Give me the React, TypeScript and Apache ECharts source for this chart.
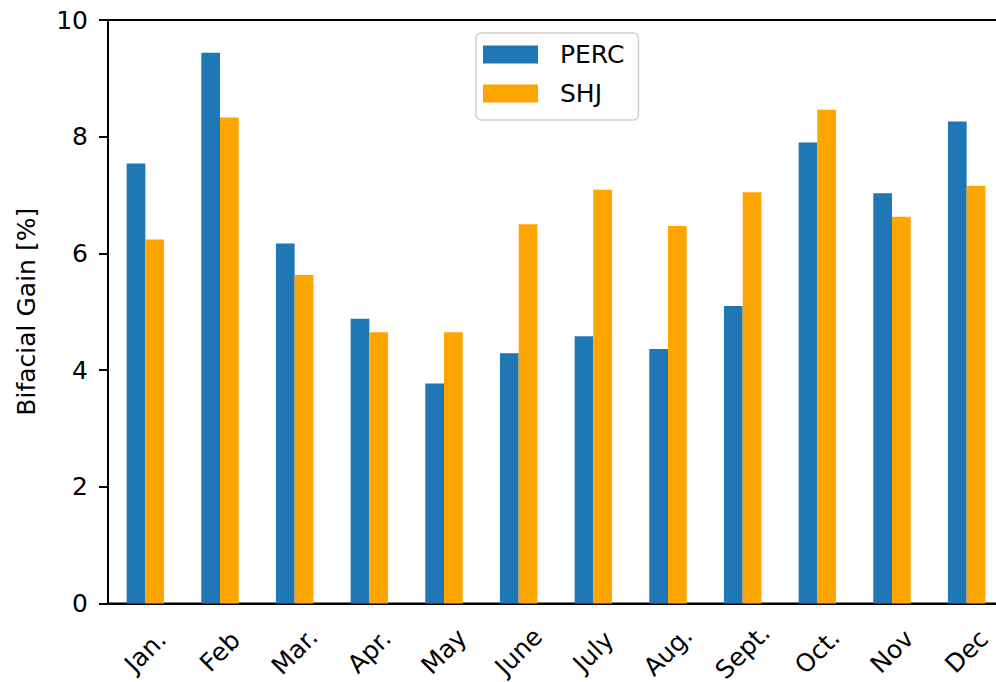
import React, { useEffect, useRef } from "react";
import * as echarts from "echarts";

// Monthly bifacial gain of two module technologies
const months = ["Jan.", "Feb", "Mar.", "Apr.", "May", "June", "July", "Aug.", "Sept.", "Oct.", "Nov", "Dec"];
const percGain = [7.54, 9.44, 6.17, 4.88, 3.77, 4.29, 4.58, 4.36, 5.10, 7.90, 7.03, 8.26];
const shjGain = [6.24, 8.33, 5.63, 4.65, 4.65, 6.50, 7.09, 6.47, 7.05, 8.46, 6.63, 7.16];
const yTicks = { min: 0, max: 10, interval: 2 };

const FONT = "DejaVu Sans";
const FS = 25;

export default function App() {
  const ref = useRef<HTMLDivElement>(null);

  useEffect(() => {
    if (!ref.current) return;
    const chart = echarts.init(ref.current, undefined, { renderer: "svg" });
    chart.setOption({
      animation: false,
      textStyle: { fontFamily: FONT, color: "#000" },
      grid: {
        left: 108,
        top: 20,
        width: 896,
        height: 583.5,
        outerBoundsMode: "none",
        containLabel: false,
        show: true,
        borderColor: "#000",
        borderWidth: 2,
        backgroundColor: "transparent",
      },
      legend: {
        orient: "vertical",
        left: 476,
        top: 33,
        data: ["PERC", "SHJ"],
        icon: "rect",
        itemWidth: 55,
        itemHeight: 18,
        itemGap: 9,
        padding: [6.5, 14, 11.5, 7],
        borderColor: "#d0d0d0",
        borderWidth: 1.5,
        borderRadius: 5,
        backgroundColor: "rgba(255,255,255,0.8)",
        textStyle: {
          fontFamily: FONT,
          fontSize: FS,
          color: "#000",
          lineHeight: 30,
          padding: [0, 0, 0, 17],
        },
      },
      xAxis: {
        type: "category",
        data: months,
        boundaryGap: true,
        axisLine: { lineStyle: { color: "#000", width: 2 } },
        axisTick: { alignWithLabel: true, length: 9, lineStyle: { color: "#000", width: 2 } },
        axisLabel: {
          rotate: 45,
          align: "center",
          verticalAlign: "middle",
          margin: 48,
          fontFamily: FONT,
          fontSize: FS,
          color: "#000",
          interval: 0,
        },
        splitLine: { show: false },
      },
      yAxis: {
        type: "value",
        min: yTicks.min,
        max: yTicks.max,
        interval: yTicks.interval,
        name: "Bifacial Gain [%]",
        nameLocation: "middle",
        nameGap: 69,
        nameTextStyle: { fontFamily: FONT, fontSize: FS, color: "#000" },
        axisLine: { show: true, lineStyle: { color: "#000", width: 2 } },
        axisTick: { show: true, length: 9, lineStyle: { color: "#000", width: 2 } },
        axisLabel: { margin: 20, fontFamily: FONT, fontSize: FS, color: "#000" },
        splitLine: { show: false },
      },
      series: [
        {
          name: "PERC",
          type: "bar",
          data: percGain,
          barWidth: 18.7,
          barGap: "0%",
          itemStyle: { color: "#1f77b4" },
        },
        {
          name: "SHJ",
          type: "bar",
          data: shjGain,
          barWidth: 18.7,
          barGap: "0%",
          itemStyle: { color: "#ffa500" },
        },
      ],
    });
    return () => chart.dispose();
  }, []);

  // The plot area runs past the right edge of the frame, so the chart canvas
  // is wider than the visible window and clipped by the wrapper.
  return (
    <div
      style={{
        position: "absolute",
        left: 0,
        top: 0,
        width: 996,
        height: 682,
        overflow: "hidden",
        background: "#fff",
      }}
    >
      <div ref={ref} style={{ width: 1016, height: 682 }} />
    </div>
  );
}
